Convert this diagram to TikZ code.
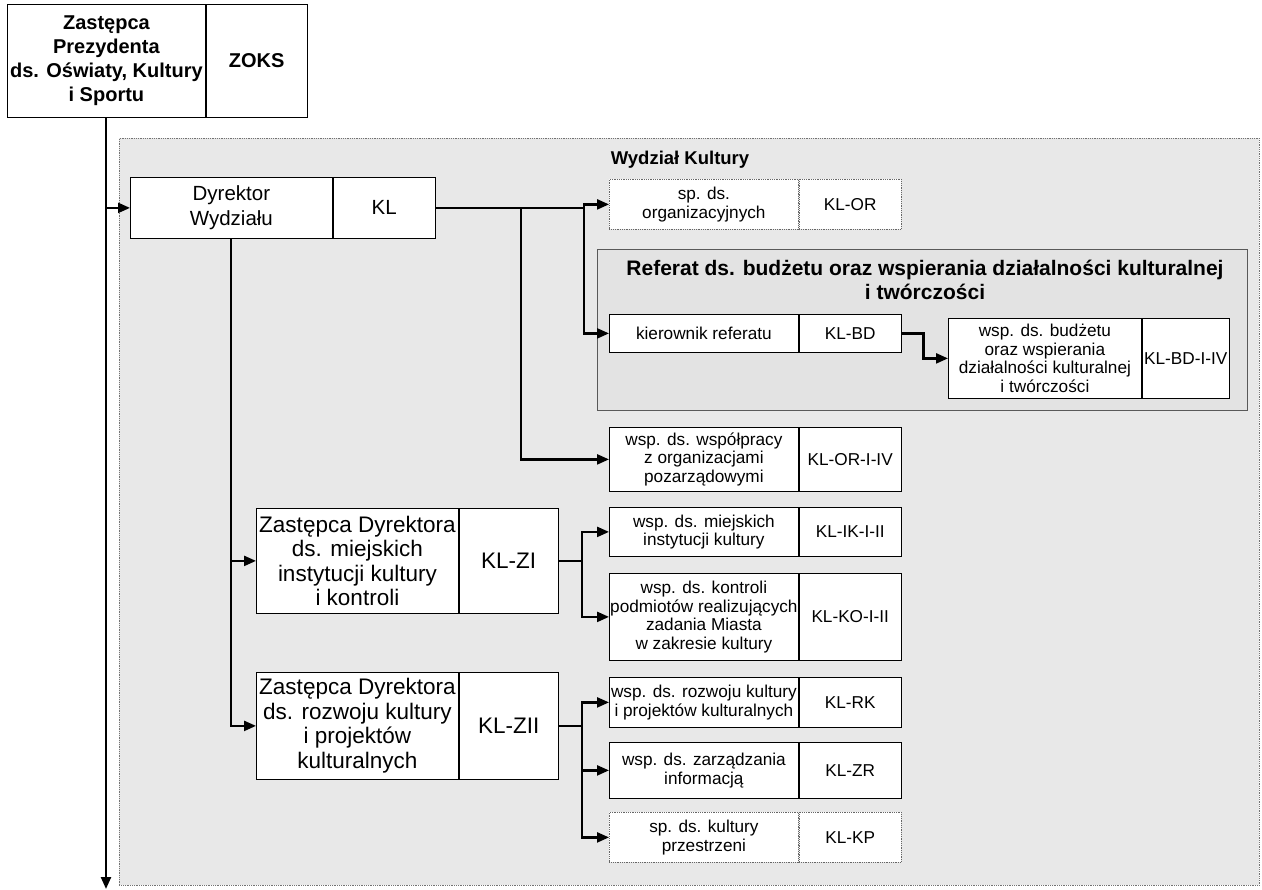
\documentclass[tikz,border=0pt]{standalone}
\usepackage{fontspec}
\setmainfont{Liberation Sans}
\usetikzlibrary{arrows.meta}
\newcommand\orgpair[8]{%
  \node[#6, minimum width=#3pt, minimum height=#5pt] (#1) at #2 {#7};
  \node[#6, minimum width=#4pt, minimum height=#5pt] (#1c) at (#1.north east) {#8};}
\begin{document}
\begin{tikzpicture}[x=1pt,y=-1pt,
  cell/.style={draw=black, line width=0.8pt, fill=white, inner sep=0pt, align=center, anchor=north west},
  spcell/.style={cell, draw=black!60, densely dotted},
  conn/.style={line width=2.3pt},
  arr/.style={conn, -{Triangle[length=12pt,width=10pt]}},
  fsmall/.style={font=\fontsize{17.2}{18.5}\selectfont},
  fmid/.style={font=\fontsize{20.5}{24.5}\selectfont},
  fbig/.style={font=\fontsize{22.5}{24.5}\selectfont},
  ftop/.style={font=\bfseries\fontsize{20}{24}\selectfont},
  region/.style={anchor=north west, inner sep=0pt},
]
\useasboundingbox (0,0) rectangle (1262,890);
\fill[white] (0,0) rectangle (1262,890);

% department region
\node[region, draw=black!55, densely dotted, line width=0.8pt, fill=black!9,
      minimum width=1140pt, minimum height=747pt] (wyd) at (119,138) {};
\node[font=\bfseries\fontsize{18.5}{22}\selectfont] (wydlab) at (680,160) {Wydział Kultury};

% section container
\node[region, draw=black!65, line width=1pt, fill=black!11,
      minimum width=650pt, minimum height=161pt] (ref) at (597,249) {};
\node[font=\bfseries\fontsize{21}{24}\selectfont, align=center] (reflab) at (925,280)
  {Referat ds. budżetu oraz wspierania działalności kulturalnej\\i twórczości};

% boxes
\orgpair{top}{(7,4)}{198}{101}{113}{cell, ftop}{Zastępca\\Prezydenta\\ds. Oświaty, Kultury\\i Sportu}{ZOKS}
\orgpair{dyr}{(130,177)}{202}{102}{61}{cell, fmid}{Dyrektor\\Wydziału}{KL}
\orgpair{or}{(609,179)}{189}{102}{50}{spcell, fsmall}{sp. ds.\\organizacyjnych}{KL-OR}
\orgpair{kier}{(609,314)}{189}{102}{38}{cell, fsmall}{kierownik referatu}{KL-BD}
\orgpair{bud}{(948,318)}{193}{87}{80}{cell, fsmall}{wsp. ds. budżetu\\oraz wspierania\\działalności kulturalnej\\i twórczości}{KL-BD-I-IV}
\orgpair{orIV}{(609,427)}{189}{102}{64}{cell, fsmall}{wsp. ds. współpracy\\z organizacjami\\pozarządowymi}{KL-OR-I-IV}
\orgpair{zi}{(256,508)}{202}{99}{105}{cell, fbig}{Zastępca Dyrektora\\ds. miejskich\\instytucji kultury\\i kontroli}{KL-ZI}
\orgpair{ik}{(609,507)}{189}{102}{49}{cell, fsmall}{wsp. ds. miejskich\\instytucji kultury}{KL-IK-I-II}
\orgpair{ko}{(609,573)}{189}{102}{87}{cell, fsmall}{wsp. ds. kontroli\\podmiotów realizujących\\zadania Miasta\\w zakresie kultury}{KL-KO-I-II}
\orgpair{zii}{(256,672)}{202}{99}{107}{cell, fbig}{Zastępca Dyrektora\\ds. rozwoju kultury\\i projektów\\kulturalnych}{KL-ZII}
\orgpair{rk}{(609,677)}{189}{102}{50}{cell, fsmall}{wsp. ds. rozwoju kultury\\i projektów kulturalnych}{KL-RK}
\orgpair{zr}{(609,742)}{189}{102}{56}{cell, fsmall}{wsp. ds. zarządzania\\informacją}{KL-ZR}
\orgpair{kp}{(609,812)}{189}{102}{50}{spcell, fsmall}{sp. ds. kultury\\przestrzeni}{KL-KP}

% junction coordinates
\coordinate (mainx) at (106,889);
\coordinate (ja) at (584,0);
\coordinate (jb) at (521,0);
\coordinate (jc) at (231,0);
\coordinate (jd) at (582,0);

% connectors
\draw[arr] (top.south -| mainx) -- (mainx);
\draw[arr] (dyr.west -| mainx) -- (dyr.west);
\draw[conn] (dyrc.east) -- (dyrc.east -| ja);
\draw[arr] (dyrc.east -| ja) |- (or.west);
\draw[arr] (dyrc.east -| ja) |- (kier.west);
\draw[arr] (dyrc.east -| jb) |- (orIV.west);
\draw[arr] (dyr.south -| jc) |- (zi.west);
\draw[arr] (dyr.south -| jc) |- (zii.west);
\draw[arr] (kierc.east) -- ++(22,0) |- (bud.west);
\draw[conn] (zic.east) -- (zic.east -| jd);
\draw[arr] (zic.east -| jd) |- (ik.west);
\draw[arr] (zic.east -| jd) |- (ko.west);
\draw[conn] (ziic.east) -- (ziic.east -| jd);
\draw[arr] (ziic.east -| jd) |- (rk.west);
\draw[arr] (ziic.east -| jd) |- (zr.west);
\draw[arr] (ziic.east -| jd) |- (kp.west);
\end{tikzpicture}
\end{document}
